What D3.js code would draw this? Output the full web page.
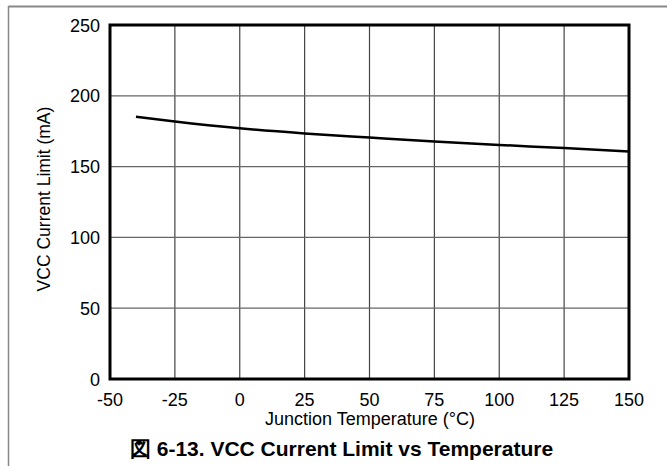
<!DOCTYPE html>
<html>
<head>
<meta charset="utf-8">
<script src="https://cdn.jsdelivr.net/npm/d3@7"></script>
<style>
  body { margin: 0; background: #fff; }
  svg { display: block; font-family: "Liberation Sans", Arial, sans-serif; }
</style>
</head>
<body>
<svg width="667" height="466"></svg>
<script>
// data
const temps = [-40, -25, 0, 25, 50, 75, 100, 125, 150];
const currentMA = [185.2, 181.8, 177, 173.4, 170.5, 167.7, 165.3, 163.1, 160.6];
const xTicks = [-50, -25, 0, 25, 50, 75, 100, 125, 150];
const yTicks = [0, 50, 100, 150, 200, 250];

const svg = d3.select("svg");
const margin = { left: 110, top: 25, right: 629, bottom: 379 };

const x = d3.scaleLinear().domain([-50, 150]).range([margin.left, margin.right]);
const y = d3.scaleLinear().domain([0, 250]).range([margin.bottom, margin.top]);

// outer frame (top and left edges only)
svg.append("line")
    .attr("x1", 8.5).attr("x2", 667).attr("y1", 6.5).attr("y2", 6.5)
    .attr("stroke", "#888").attr("stroke-width", 2);
svg.append("line")
    .attr("x1", 8.5).attr("x2", 8.5).attr("y1", 6).attr("y2", 466)
    .attr("stroke", "#888").attr("stroke-width", 1.5);

// grid
svg.append("g")
  .selectAll("line")
  .data(xTicks.slice(1, -1))
  .enter().append("line")
    .attr("x1", (d) => x(d)).attr("x2", (d) => x(d))
    .attr("y1", margin.top).attr("y2", margin.bottom)
    .attr("stroke", "#444").attr("stroke-width", 1.2);

svg.append("g")
  .selectAll("line")
  .data(yTicks.slice(1, -1))
  .enter().append("line")
    .attr("x1", margin.left).attr("x2", margin.right)
    .attr("y1", (d) => y(d)).attr("y2", (d) => y(d))
    .attr("stroke", "#666").attr("stroke-width", 1.2);

// curve
svg.append("path")
    .datum(temps.map((t, i) => [t, currentMA[i]]))
    .attr("fill", "none")
    .attr("stroke", "#000")
    .attr("stroke-width", 2.5)
    .attr("d", d3.line().x((d) => x(d[0])).y((d) => y(d[1])).curve(d3.curveMonotoneX));

// plot border
svg.append("rect")
    .attr("x", margin.left).attr("y", margin.top)
    .attr("width", margin.right - margin.left)
    .attr("height", margin.bottom - margin.top)
    .attr("fill", "none").attr("stroke", "#000").attr("stroke-width", 3);

// tick labels
svg.append("g")
  .selectAll("text")
  .data(xTicks)
  .enter().append("text")
    .attr("x", (d) => x(d))
    .attr("y", 406)
    .attr("text-anchor", "middle")
    .attr("font-size", 18)
    .text((d) => d);

svg.append("g")
  .selectAll("text")
  .data(yTicks)
  .enter().append("text")
    .attr("x", 100)
    .attr("y", (d) => y(d) + 6.5)
    .attr("text-anchor", "end")
    .attr("font-size", 18)
    .text((d) => d);

// axis titles
svg.append("text")
    .attr("x", 370).attr("y", 425)
    .attr("text-anchor", "middle")
    .attr("font-size", 18)
    .text("Junction Temperature (°C)");

svg.append("text")
    .attr("transform", "translate(50,199) rotate(-90)")
    .attr("text-anchor", "middle")
    .attr("font-size", 17.5)
    .text("VCC Current Limit (mA)");

// caption
svg.append("text")
    .attr("x", 341.5).attr("y", 456)
    .attr("text-anchor", "middle")
    .attr("font-size", 21)
    .attr("font-weight", "bold")
    .text("図 6-13. VCC Current Limit vs Temperature");
</script>
</body>
</html>
